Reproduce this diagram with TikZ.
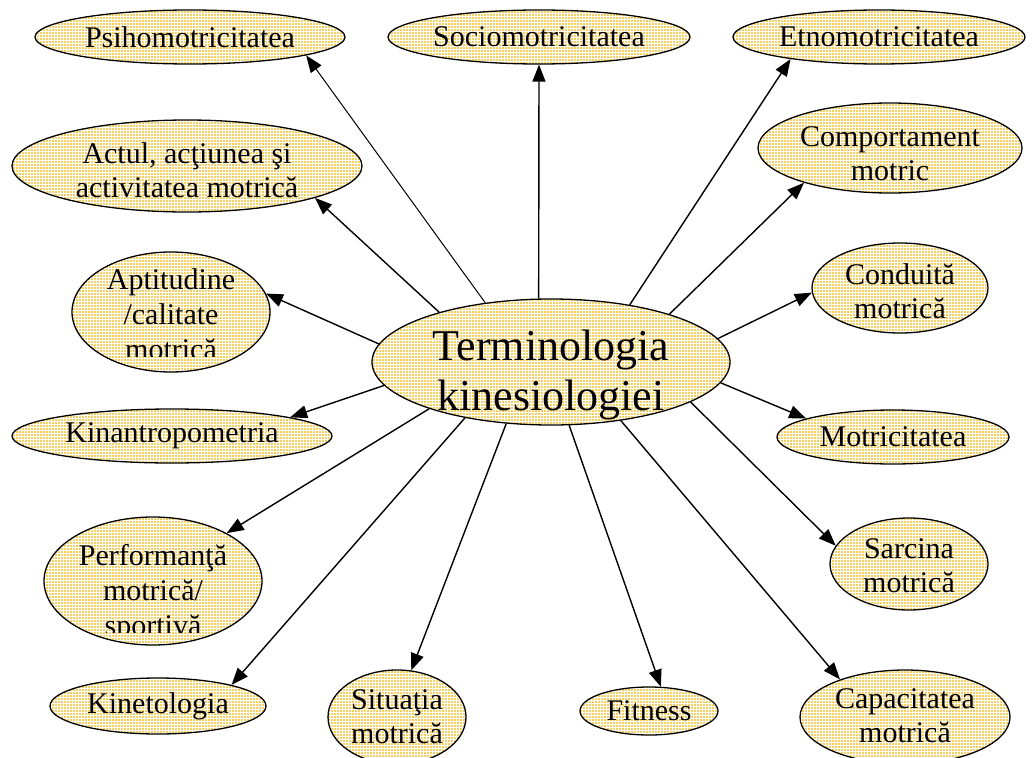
\documentclass[tikz,border=0pt]{standalone}
\usepackage{fontspec}
\setmainfont{Liberation Serif}
\usetikzlibrary{shapes.geometric,arrows.meta,patterns}
\definecolor{bubblebase}{RGB}{248,207,97}
\tikzset{
  bubble/.style={ellipse, draw=black, line width=1.3pt,
    preaction={fill=bubblebase}, pattern=grid, pattern color=white,
    inner sep=0pt, font=\fontsize{30}{34}\selectfont},
  caption/.style={align=center, inner sep=0pt, font=\fontsize{30}{34}\selectfont},
  link/.style={line width=1.4pt, -{Triangle[length=17pt,width=13pt]}},
}
\begin{document}
\begin{tikzpicture}[x=1pt,y=-1pt]
\useasboundingbox (0,0) rectangle (1032,757);

% central concept
\node[bubble, minimum width=358pt, minimum height=126pt] (c) at (551,362) {};
\node[caption, font=\fontsize{44}{50}\selectfont] (c-t) at (551,375) {Terminologia\\kinesiologiei};

% top row
\node[bubble, minimum width=310pt, minimum height=54pt] (psi) at (190,37) {Psihomotricitatea};
\node[bubble, minimum width=302pt, minimum height=54pt] (soc) at (539,37) {Sociomotricitatea};
\node[bubble, minimum width=292pt, minimum height=54pt] (etn) at (879,37) {Etnomotricitatea};

% left column
\node[bubble, minimum width=350pt, minimum height=92pt] (act) at (187,166) {};
\node[caption] (act-t) at (187,170) {Actul, acţiunea şi\\activitatea motrică};

\node[bubble, minimum width=198pt, minimum height=120pt] (apt) at (171,312) {};
\begin{scope}
  \clip (60,245) rectangle (290,356);
  \node[caption, font=\fontsize{30}{35}\selectfont] (apt-t) at (171,314) {Aptitudine\\/calitate\\motrică};
\end{scope}

\node[bubble, minimum width=320pt, minimum height=54pt] (kinan) at (172,436) {Kinantropometria};

\node[bubble, minimum width=218pt, minimum height=128pt] (perf) at (153,581) {};
\begin{scope}
  \clip (40,510) rectangle (270,632);
  \node[caption, font=\fontsize{30}{35}\selectfont] (perf-t) at (153,593) {Performanţă\\motrică/\\sportivă};
\end{scope}

\node[bubble, minimum width=216pt, minimum height=56pt] (kinet) at (158,706) {Kinetologia};

% bottom row
\node[bubble, minimum width=138pt, minimum height=94pt] (sit) at (397,717) {};
\node[caption] (sit-t) at (397,717) {Situaţia\\motrică};
\node[bubble, minimum width=138pt, minimum height=48pt] (fit) at (649,711) {Fitness};
\node[bubble, minimum width=210pt, minimum height=94pt] (cap) at (905,717) {};
\node[caption] (cap-t) at (905,716) {Capacitatea\\motrică};

% right column
\node[bubble, minimum width=264pt, minimum height=90pt] (comp) at (890,148) {};
\node[caption] (comp-t) at (890,154) {Comportament\\motric};
\node[bubble, minimum width=176pt, minimum height=90pt] (cond) at (900,288) {};
\node[caption] (cond-t) at (900,291) {Conduită\\motrică};
\node[bubble, minimum width=232pt, minimum height=54pt] (mot) at (893,437) {Motricitatea};
\node[bubble, minimum width=158pt, minimum height=92pt] (sarc) at (909,564) {};
\node[caption] (sarc-t) at (909,566) {Sarcina\\motrică};

% connectors from the central concept
\draw[link, line width=1pt] (c.138) -- (psi.-9);
\draw[link] (c.101) -- (soc.-90);
\draw[link] (c.36) -- (etn.-166);
\draw[link] (c.22) -- (comp.-158);
\draw[link] (c.8) -- (cond.-177);
\draw[link] (c.-7) -- (mot.168);
\draw[link] (c.-16) -- (sarc.166);
\draw[link] (c.-40) -- (cap.150);
\draw[link] (c.-74) -- (fit.64);
\draw[link] (c.-126) -- (sit.73);
\draw[link] (c.-147) -- (kinet.16);
\draw[link] (c.-159) -- (perf.33);
\draw[link] (c.-172) -- (kinan.9);
\draw[link] (c.174) -- (apt.11);
\draw[link] (c.156) -- (act.-14);
\end{tikzpicture}
\end{document}
